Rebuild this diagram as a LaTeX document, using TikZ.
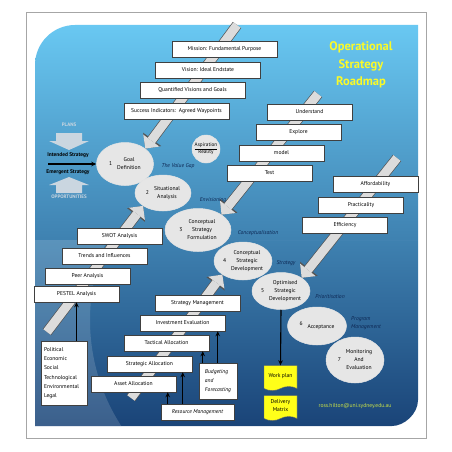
\documentclass[tikz,border=0pt]{standalone}
\usepackage{fontspec}
\setmainfont{PT Sans}
\usetikzlibrary{arrows.meta,shapes.geometric,shapes.symbols,positioning}
\definecolor{sky}{RGB}{105,200,242}
\definecolor{midblue}{RGB}{44,145,215}
\definecolor{navy}{RGB}{26,68,120}
\definecolor{labelblue}{RGB}{12,38,82}
\definecolor{arrowgray}{RGB}{220,220,220}
\definecolor{arrowedge}{RGB}{85,85,85}
\definecolor{ellgray}{RGB}{230,230,230}
\definecolor{titleyellow}{RGB}{250,250,40}
\definecolor{mailgreen}{RGB}{205,228,70}
\definecolor{faint}{RGB}{202,214,224}
\definecolor{docyellow}{RGB}{255,255,25}
\newcommand{\boxfont}{\fontsize{5.6}{8}\selectfont}
\newcommand{\stagetext}[2]{#1\hspace{5pt}\begin{tabular}{@{}c@{}}#2\end{tabular}}
\pgfdeclarelayer{panel}
\pgfdeclarelayer{arrowlayer}
\pgfsetlayers{panel,arrowlayer,main}

\begin{document}
\begin{tikzpicture}[x=1pt,y=-1pt,
    every node/.style={font=\boxfont},
    box/.style={draw=black!75,fill=white,line width=0.5pt,minimum width=85pt,minimum height=16pt,inner sep=1pt},
    wide/.style={box,minimum width=105pt},
    stage/.style={ellipse,draw=white!80!gray,fill=ellgray,line width=0.5pt,inner sep=0pt},
    phase/.style={font=\boxfont\itshape,text=labelblue},
    bigarrow/.style={draw=arrowgray,line width=9pt,-{Triangle[width=20pt,length=10pt,line width=0pt]},
      preaction={draw=arrowedge,line width=10.4pt,-{Triangle[width=22.5pt,length=11.5pt,line width=0pt]}}},
    blk/.style={draw=black,line width=1.1pt,-{Stealth[length=5pt,width=4.5pt]}},
    doc/.style={tape,tape bend top=none,tape bend height=4pt,draw=black!60,fill=docyellow,
      minimum width=33pt,minimum height=25pt,inner sep=0pt,align=center}]
  \useasboundingbox (0,0) rectangle (452,452);
  \begin{pgfonlayer}{panel}
    \fill[white] (0,0) rectangle (452,452);
    \draw[gray!70,line width=1pt] (26,13) rectangle (426,438);
    \shade[top color=sky,middle color=midblue,bottom color=navy]
      (35,426) -- (35,65) .. controls (35,43) and (53,25) .. (75,25) -- (418,25)
      -- (418,400) .. controls (418,414) and (404,426) .. (392,426) -- cycle;
    \begin{scope}
      \clip (35,240) rectangle (418,426);
      \fill[white,opacity=0.15,even odd rule] (35,240) rectangle (418,426) (285,320) circle (195);
    \end{scope}
    \fill[faint] (56,133) -- (82,133) -- (82,141) -- (89,141) -- (69,150) -- (49,141) -- (56,141) -- cycle;
    \fill[faint] (56,193) -- (82,193) -- (82,185) -- (89,185) -- (69,177) -- (49,185) -- (56,185) -- cycle;
  \end{pgfonlayer}

  \node[font=\fontsize{12.5}{17.5}\selectfont\bfseries,text=titleyellow,align=center] (title) at (361,65)
    {Operational\\Strategy\\Roadmap};

  \node[wide] (mission) at (224.5,49) {Mission: Fundamental Purpose};
  \node[wide] (vision) at (208,70) {Vision: Ideal Endstate};
  \node[wide] (quant) at (192.5,90) {Quantified Visions and Goals};
  \node[wide] (success) at (176.5,111) {Success Indicators:\ \ Agreed Waypoints};

  \node[box] (understand) at (309.5,112) {Understand};
  \node[box] (explore) at (298.5,132) {Explore};
  \node[box] (model) at (281.5,153) {model};
  \node[box] (test) at (269.5,173) {Test};

  \node[box] (afford) at (375.5,184) {Affordability};
  \node[box] (pract) at (361,205) {Practicality};
  \node[box] (effic) at (345,225) {Efficiency};

  \node[box] (swot) at (119.5,236) {SWOT Analysis};
  \node[box] (trends) at (104.5,256) {Trends and Influences};
  \node[box] (peer) at (87.5,276) {Peer Analysis};
  \node[box] (pestel) at (76.5,294) {PESTEL Analysis};
  \node[box,minimum width=46pt,minimum height=64pt,text width=40pt,align=left,
    font=\fontsize{5.6}{9.3}\selectfont] (pest) at (64,373)
    {Political\\Economic\\Social\\Technological\\Environmental\\Legal};

  \node[box] (stratman) at (197.5,303) {Strategy Management};
  \node[box] (invest) at (182.5,323) {Investment Evaluation};
  \node[box] (tactical) at (166.5,343) {Tactical Allocation};
  \node[box] (stratalloc) at (149.5,364) {Strategic Allocation};
  \node[box] (asset) at (133.5,384) {Asset Allocation};
  \node[box,minimum width=38pt,minimum height=36pt,align=left,
    font=\fontsize{5.6}{9}\selectfont\itshape] (budget) at (218,381) {Budgeting\\and\\Forecasting};
  \node[box,minimum width=73pt,font=\boxfont\itshape] (resource) at (197.5,412) {Resource Management};

  \node[stage,minimum width=57pt,minimum height=43pt] (goal) at (125,164) {\stagetext{1}{Goal\\Definition}};
  \node[stage,minimum width=56pt,minimum height=36pt] (situ) at (163,193) {\stagetext{2}{Situational\\Analysis}};
  \node[stage,minimum width=66pt,minimum height=43pt] (form) at (198,230) {\stagetext{3}{Conceptual\\Strategy\\Formulation}};
  \node[stage,minimum width=58pt,minimum height=38pt] (devel) at (243,261) {\stagetext{4}{Conceptual\\Strategic\\Development}};
  \node[stage,minimum width=58pt,minimum height=37pt] (optim) at (281,291) {\stagetext{5}{Optimised\\Strategic\\Development}};
  \node[stage,minimum width=59pt,minimum height=38pt] (accept) at (317,326) {\stagetext{\raisebox{3pt}{6}}{Acceptance}};
  \node[stage,minimum width=58pt,minimum height=46pt] (monitor) at (355,360) {\stagetext{7}{Monitoring\\And\\Evaluation}};
  \node[stage,circle,minimum size=28pt,align=center,font=\fontsize{5.2}{7}\selectfont] (gap) at (206,149)
    {\underline{Aspiration}\\Reality};

  \node[phase] (valuegap) at (178,166) {The Value Gap};
  \node[phase] (envision) at (213,200) {Envisioning};
  \node[phase] (concept) at (258,233) {Conceptualisation};
  \node[phase] (strategy) at (286,263) {Strategy};
  \node[phase] (prior) at (330,297) {Prioritisation};
  \node[phase,align=left] (program) at (366,323) {Program\\Management};

  \node[font=\fontsize{5}{6}\selectfont\bfseries,text=faint] (plans) at (69,125) {PLANS};
  \node[font=\fontsize{5}{6}\selectfont\bfseries,text=faint] (opport) at (69,197) {OPPORTUNITIES};
  \node[font=\fontsize{5.4}{6}\selectfont\bfseries] (intended) at (68,155) {Intended Strategy};
  \node[font=\fontsize{5.4}{6}\selectfont\bfseries] (emergent) at (68,172) {Emergent Strategy};

  \node[doc] (workplan) at (280.5,376) {Work plan};
  \node[doc] (delivery) at (280.5,406) {Delivery\\Matrix};
  \node[text=mailgreen,font=\fontsize{5.6}{6}\selectfont] (mail) at (355,406) {ross.hilton@uni.sydney.edu.au};

  \begin{pgfonlayer}{arrowlayer}
    \coordinate (tail1) at (237,25);
    \coordinate (tail2) at (318,94);
    \coordinate (tail3) at (397,158);
    \coordinate (tail4) at (47,332);
    \coordinate (tail5) at (131,398);
    \draw[bigarrow] (tail1) -- (goal.north east);
    \draw[bigarrow] (tail2) -- (form.north east);
    \draw[bigarrow] (tail3) -- (optim.north east);
    \draw[bigarrow] (tail4) -- (situ.south west);
    \draw[bigarrow] (tail5) -- (devel.south west);
  \end{pgfonlayer}

  \coordinate (strat) at (48,164);
  \draw[blk] (strat) -- (goal.west);
  \draw[blk] (pest.north -| pestel.south) -- (pestel.south);
  \coordinate (r1) at ([xshift=7pt]resource.north west);
  \coordinate (r2) at ([xshift=22pt]resource.north west);
  \coordinate (b1) at ([xshift=4pt]budget.north west);
  \coordinate (b2) at ([xshift=19pt]budget.north west);
  \draw[blk] (r1) -- (r1 |- asset.south);
  \draw[blk] (r2) -- (r2 |- stratalloc.south);
  \draw[blk] (b1) -- (b1 |- tactical.south);
  \draw[blk] (b2) -- (b2 |- invest.south);
  \draw[blk] (optim.south) -- (workplan.north);
\end{tikzpicture}
\end{document}
